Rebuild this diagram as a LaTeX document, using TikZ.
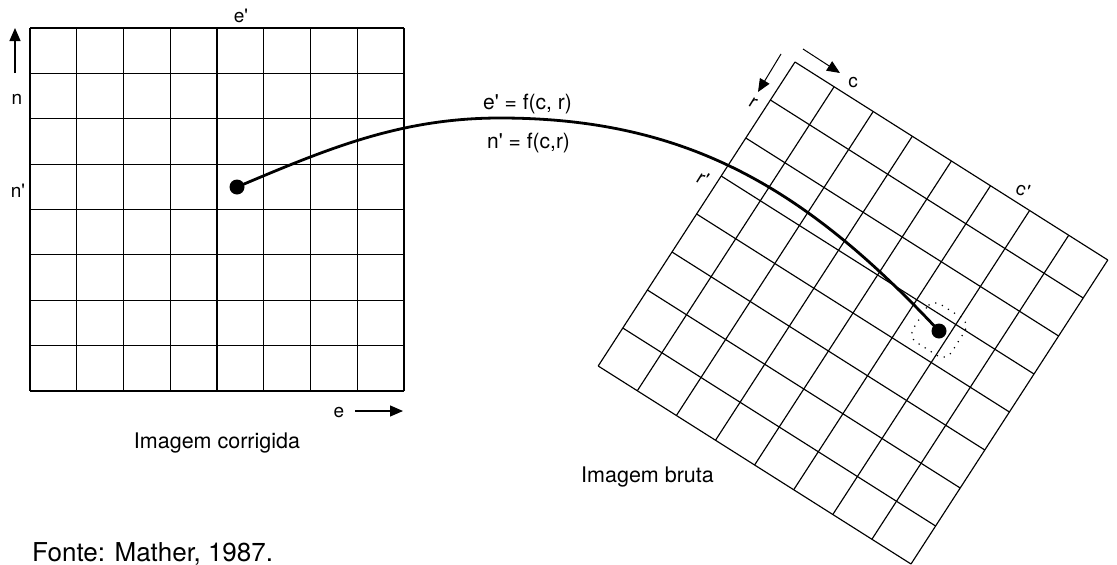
\documentclass[tikz,border=0pt]{standalone}
\usepackage{fontspec}
\setmainfont{TeX Gyre Heros}
\usetikzlibrary{arrows.meta}
\begin{document}
\begin{tikzpicture}[x=1pt,y=-1pt,
  gridline/.style={line width=1.15pt},
  rgridline/.style={line width=1.15pt},
  axlabel/.style={font=\fontsize{19}{22}\selectfont, inner sep=0pt},
  caption/.style={font=\fontsize{21.5}{24}\selectfont, inner sep=0pt, anchor=base},
  eqlabel/.style={font=\fontsize{21}{25}\selectfont, inner sep=0pt, anchor=base west},
  dot/.style={circle, fill=black, inner sep=0pt, minimum size=15pt},
  axarrow/.style={line width=1.2pt, -{Triangle[length=13pt,width=11pt]}},
  link/.style={line width=2.8pt},
  roi/.style={line width=1.2pt, dash pattern=on 1.2pt off 6pt, rounded corners=10pt},
]
\useasboundingbox (0,0) rectangle (1117,565);

% corrected image grid
\foreach \i in {0,...,8} {
  \draw[gridline] ({30+46.75*\i},28) -- ({30+46.75*\i},391);
  \draw[gridline] (30,{28+45.375*\i}) -- (404,{28+45.375*\i});
}
\node[axlabel, anchor=base] (eprime) at (241,22) {e\textquotesingle};
\node[axlabel, anchor=base] (nlab) at (17,104) {n};
\node[axlabel, anchor=base] (nprime) at (18,197) {n\textquotesingle};
\node[axlabel, anchor=base] (elab) at (339,417) {e};
\coordinate (nup0) at (15,73);
\coordinate (nup1) at (15,28);
\draw[axarrow] (nup0) -- (nup1);
\coordinate (er0) at (355,411);
\coordinate (er1) at (403,411);
\draw[axarrow] (er0) -- (er1);
\node[caption] (corr) at (217,448) {Imagem corrigida};

% raw image grid (rotated)
\begin{scope}[shift={(795,62)}, x={(39.1pt,-24.75pt)}, y={(-24.6pt,-38pt)}]
  \foreach \i in {0,...,8} {
    \draw[rgridline] (\i,0) -- (\i,8);
    \draw[rgridline] (0,\i) -- (8,\i);
  }
\end{scope}
\coordinate (c0) at (803,49);
\coordinate (c1) at (840,73);
\draw[axarrow, line width=1pt] (c0) -- (c1);
\coordinate (r0) at (781,54);
\coordinate (r1) at (758,92);
\draw[axarrow, line width=1pt] (r0) -- (r1);
\node[axlabel] (clab) at (853,83) {c};
\node[axlabel, rotate=-32] (rlab) at (753,103) {r};
\node[axlabel, rotate=-32] (rprime) at (703,178) {r\textquotesingle};
\node[axlabel, rotate=-20] (cprime) at (1023,190) {c\textquotesingle};
\node[caption, anchor=base west] (bruta) at (581,482) {Imagem bruta};

% mapping
\node[eqlabel] (eq1) at (483,109) {e\textquotesingle{} = f(c, r)};
\node[eqlabel] (eq2) at (487,148) {n\textquotesingle{} = f(c,r)};
\node[dot] (src) at (237,187) {};
\node[dot] (dst) at (939,331) {};
\coordinate (peak) at (500,118);
\draw[link] (src.center) .. controls (327,149) and (400,118) .. (peak)
  .. controls (690,118) and (808,191) .. (dst.center);
\draw[roi, rotate around={-32.3:(939,330)}] (916.5,307.5) rectangle (961.5,352.5);

\node[font=\fontsize{26}{30}\selectfont, anchor=base west, inner sep=0pt] (fonte) at (32,561) {Fonte: Mather, 1987.};
\end{tikzpicture}
\end{document}
